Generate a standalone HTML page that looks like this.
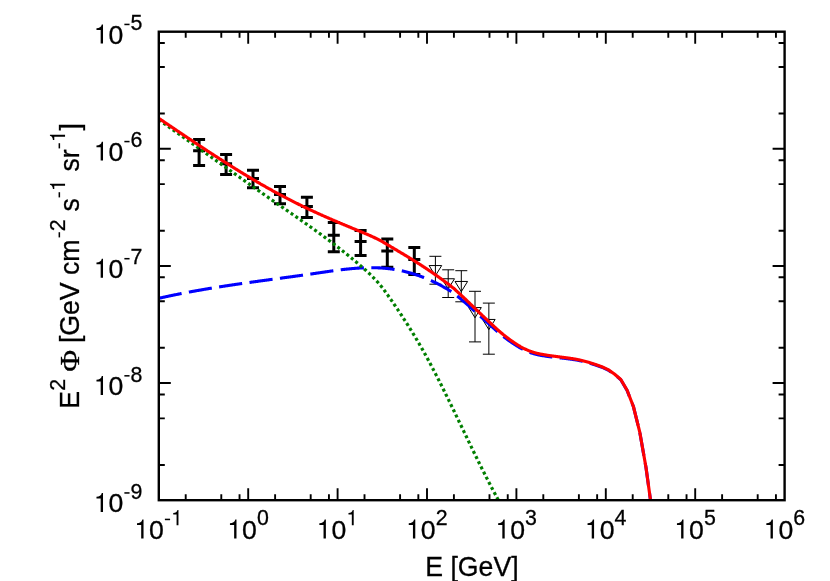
<!DOCTYPE html>
<html><head><meta charset="utf-8"><title>E2 Phi spectrum</title>
<style>html,body{margin:0;padding:0;background:#fff;}body{width:830px;height:581px;overflow:hidden;font-family:"Liberation Sans",sans-serif;}</style></head>
<body>
<svg width="830" height="581" viewBox="0 0 830 581" style="display:block;will-change:transform">
<rect width="830" height="581" fill="#fff"/>
<defs><clipPath id="c"><rect x="158.8" y="31.7" width="625.8" height="468.5"/></clipPath></defs>
<g clip-path="url(#c)">
<g stroke="#000" stroke-width="3" fill="none">
<path d="M199.1,139.6V165.5M193.1,139.6h12M193.1,165.5h12M193.1,150.7h12"/>
<path d="M226.1,154.5V174.6M220.1,154.5h12M220.1,174.6h12M220.1,163.7h12"/>
<path d="M253,170.3V187.7M247,170.3h12M247,187.7h12M247,178.5h12"/>
<path d="M280,186.5V203.8M274,186.5h12M274,203.8h12M274,194.6h12"/>
<path d="M306.9,197.2V217.6M300.9,197.2h12M300.9,217.6h12M300.9,206.5h12"/>
<path d="M333.8,222.6V251.7M327.8,222.6h12M327.8,251.7h12M327.8,235.2h12"/>
<path d="M360.6,230.5V255.5M354.6,230.5h12M354.6,255.5h12M354.6,241.6h12"/>
<path d="M387.3,239.1V267.2M381.3,239.1h12M381.3,267.2h12M381.3,250.9h12"/>
<path d="M414.3,247.5V274.5M408.3,247.5h12M408.3,274.5h12M408.3,259.5h12"/>
</g>
<g stroke="#000" stroke-width="1" fill="none">
<path d="M435.4,256.3V284.2M429.4,256.3h12M429.4,284.2h12"/>
<path d="M435.4,275.756L429.09999999999997,265.55H441.7Z"/>
<path d="M448.2,269.8V297.5M442.2,269.8h12M442.2,297.5h12"/>
<path d="M448.2,288.95599999999996L441.9,278.75H454.5Z"/>
<path d="M461.3,270.7V301.8M455.3,270.7h12M455.3,301.8h12"/>
<path d="M461.3,291.656L455.0,281.45000000000005H467.6Z"/>
<path d="M475.0,291.3V341.9M469.0,291.3h12M469.0,341.9h12"/>
<path d="M475.0,317.756L468.7,307.55H481.3Z"/>
<path d="M488.85,303.1V354.2M482.85,303.1h12M482.85,354.2h12"/>
<path d="M488.85,329.656L482.55,319.45000000000005H495.15000000000003Z"/>
</g>
<path d="M158.80,298.31 L159.28,298.20 L159.76,298.09 L160.24,297.98 L160.72,297.87 L161.19,297.77 L161.67,297.66 L162.15,297.55 L162.63,297.44 L163.11,297.34 L163.59,297.23 L164.07,297.13 L164.55,297.02 L165.02,296.92 L165.50,296.81 L165.98,296.71 L166.46,296.60 L166.94,296.50 L167.42,296.40 L167.90,296.29 L168.38,296.19 L168.85,296.09 L169.33,295.99 L169.81,295.89 L170.29,295.79 L170.77,295.68 L171.25,295.58 L171.73,295.48 L172.21,295.38 L172.68,295.28 L173.16,295.19 L173.64,295.09 L174.12,294.99 L174.60,294.89 L175.08,294.79 L175.56,294.69 L176.04,294.60 L176.51,294.50 L176.99,294.40 L177.47,294.31 L177.95,294.21 L178.43,294.11 L178.91,294.02 L179.39,293.92 L179.87,293.83 L180.34,293.73 L180.82,293.64 L181.30,293.55 L181.78,293.45 L182.26,293.36 L182.74,293.27 L183.22,293.17 L183.70,293.08 L184.17,292.99 L184.65,292.90 L185.13,292.81 L185.61,292.71 L186.09,292.62 L186.57,292.53 L187.05,292.44 L187.53,292.35 L188.00,292.26 L188.48,292.17 L188.96,292.08 L189.44,291.99 L189.92,291.90 L190.40,291.82 L190.88,291.73 L191.36,291.64 L191.83,291.55 L192.31,291.46 L192.79,291.38 L193.27,291.29 L193.75,291.20 L194.23,291.12 L194.71,291.03 L195.19,290.94 L195.66,290.86 L196.14,290.77 L196.62,290.69 L197.10,290.60 L197.58,290.52 L198.06,290.43 L198.54,290.35 L199.02,290.26 L199.49,290.18 L199.97,290.10 L200.45,290.01 L200.93,289.93 L201.41,289.85 L201.89,289.76 L202.37,289.68 L202.85,289.60 L203.32,289.52 L203.80,289.44 L204.28,289.35 L204.76,289.27 L205.24,289.19 L205.72,289.11 L206.20,289.03 L206.68,288.95 L207.15,288.87 L207.63,288.79 L208.11,288.71 L208.59,288.63 L209.07,288.55 L209.55,288.47 L210.03,288.39 L210.51,288.31 L210.98,288.24 L211.46,288.16 L211.94,288.08 L212.42,288.00 L212.90,287.92 L213.38,287.85 L213.86,287.77 L214.34,287.69 L214.81,287.62 L215.29,287.54 L215.77,287.46 L216.25,287.39 L216.73,287.31 L217.21,287.23 L217.69,287.16 L218.17,287.08 L218.64,287.01 L219.12,286.93 L219.60,286.86 L220.08,286.78 L220.56,286.71 L221.04,286.63 L221.52,286.56 L222.00,286.48 L222.47,286.41 L222.95,286.33 L223.43,286.26 L223.91,286.19 L224.39,286.11 L224.87,286.04 L225.35,285.97 L225.83,285.89 L226.30,285.82 L226.78,285.75 L227.26,285.68 L227.74,285.60 L228.22,285.53 L228.70,285.46 L229.18,285.39 L229.66,285.32 L230.13,285.25 L230.61,285.17 L231.09,285.10 L231.57,285.03 L232.05,284.96 L232.53,284.89 L233.01,284.82 L233.49,284.75 L233.96,284.68 L234.44,284.61 L234.92,284.54 L235.40,284.47 L235.88,284.40 L236.36,284.33 L236.84,284.26 L237.32,284.19 L237.79,284.12 L238.27,284.05 L238.75,283.98 L239.23,283.91 L239.71,283.84 L240.19,283.77 L240.67,283.70 L241.15,283.63 L241.62,283.57 L242.10,283.50 L242.58,283.43 L243.06,283.36 L243.54,283.29 L244.02,283.22 L244.50,283.16 L244.98,283.09 L245.45,283.02 L245.93,282.95 L246.41,282.89 L246.89,282.82 L247.37,282.75 L247.85,282.68 L248.33,282.62 L248.81,282.55 L249.28,282.48 L249.76,282.41 L250.24,282.35 L250.72,282.28 L251.20,282.21 L251.68,282.15 L252.16,282.08 L252.64,282.01 L253.11,281.95 L253.59,281.88 L254.07,281.82 L254.55,281.75 L255.03,281.68 L255.51,281.62 L255.99,281.55 L256.47,281.48 L256.94,281.42 L257.42,281.35 L257.90,281.29 L258.38,281.22 L258.86,281.16 L259.34,281.09 L259.82,281.02 L260.30,280.96 L260.77,280.89 L261.25,280.83 L261.73,280.76 L262.21,280.70 L262.69,280.63 L263.17,280.57 L263.65,280.50 L264.13,280.44 L264.60,280.37 L265.08,280.31 L265.56,280.24 L266.04,280.18 L266.52,280.11 L267.00,280.05 L267.48,279.98 L267.96,279.92 L268.43,279.85 L268.91,279.79 L269.39,279.72 L269.87,279.66 L270.35,279.59 L270.83,279.53 L271.31,279.46 L271.79,279.40 L272.26,279.33 L272.74,279.27 L273.22,279.20 L273.70,279.14 L274.18,279.07 L274.66,279.01 L275.14,278.94 L275.62,278.88 L276.09,278.81 L276.57,278.75 L277.05,278.68 L277.53,278.62 L278.01,278.55 L278.49,278.49 L278.97,278.42 L279.45,278.36 L279.92,278.30 L280.40,278.23 L280.88,278.17 L281.36,278.10 L281.84,278.04 L282.32,277.97 L282.80,277.91 L283.28,277.84 L283.75,277.78 L284.23,277.71 L284.71,277.65 L285.19,277.58 L285.67,277.52 L286.15,277.45 L286.63,277.39 L287.11,277.32 L287.58,277.26 L288.06,277.19 L288.54,277.13 L289.02,277.06 L289.50,276.99 L289.98,276.93 L290.46,276.86 L290.94,276.80 L291.41,276.73 L291.89,276.67 L292.37,276.60 L292.85,276.54 L293.33,276.47 L293.81,276.40 L294.29,276.34 L294.77,276.27 L295.24,276.21 L295.72,276.14 L296.20,276.07 L296.68,276.01 L297.16,275.94 L297.64,275.88 L298.12,275.81 L298.60,275.74 L299.07,275.68 L299.55,275.61 L300.03,275.54 L300.51,275.48 L300.99,275.41 L301.47,275.34 L301.95,275.28 L302.43,275.21 L302.91,275.14 L303.38,275.07 L303.86,275.01 L304.34,274.94 L304.82,274.87 L305.30,274.81 L305.78,274.74 L306.26,274.67 L306.74,274.60 L307.21,274.53 L307.69,274.47 L308.17,274.40 L308.65,274.33 L309.13,274.26 L309.61,274.19 L310.09,274.12 L310.57,274.06 L311.04,273.99 L311.52,273.92 L312.00,273.85 L312.48,273.78 L312.96,273.71 L313.44,273.64 L313.92,273.57 L314.40,273.50 L314.87,273.43 L315.35,273.36 L315.83,273.29 L316.31,273.22 L316.79,273.15 L317.27,273.08 L317.75,273.01 L318.23,272.94 L318.70,272.87 L319.18,272.80 L319.66,272.73 L320.14,272.66 L320.62,272.59 L321.10,272.52 L321.58,272.45 L322.06,272.38 L322.53,272.31 L323.01,272.24 L323.49,272.17 L323.97,272.10 L324.45,272.03 L324.93,271.96 L325.41,271.89 L325.89,271.82 L326.36,271.75 L326.84,271.68 L327.32,271.61 L327.80,271.55 L328.28,271.48 L328.76,271.41 L329.24,271.34 L329.72,271.27 L330.19,271.20 L330.67,271.14 L331.15,271.07 L331.63,271.00 L332.11,270.94 L332.59,270.87 L333.07,270.81 L333.55,270.74 L334.02,270.67 L334.50,270.61 L334.98,270.55 L335.46,270.48 L335.94,270.42 L336.42,270.35 L336.90,270.29 L337.38,270.23 L337.85,270.17 L338.33,270.11 L338.81,270.05 L339.29,269.98 L339.77,269.92 L340.25,269.87 L340.73,269.81 L341.21,269.75 L341.68,269.69 L342.16,269.63 L342.64,269.58 L343.12,269.52 L343.60,269.46 L344.08,269.41 L344.56,269.36 L345.04,269.30 L345.51,269.25 L345.99,269.20 L346.47,269.14 L346.95,269.09 L347.43,269.04 L347.91,268.99 L348.39,268.94 L348.87,268.90 L349.34,268.85 L349.82,268.80 L350.30,268.76 L350.78,268.71 L351.26,268.67 L351.74,268.62 L352.22,268.58 L352.70,268.54 L353.17,268.50 L353.65,268.46 L354.13,268.42 L354.61,268.38 L355.09,268.34 L355.57,268.31 L356.05,268.27 L356.53,268.24 L357.00,268.20 L357.48,268.17 L357.96,268.14 L358.44,268.11 L358.92,268.08 L359.40,268.05 L359.88,268.02 L360.36,267.99 L360.83,267.97 L361.31,267.94 L361.79,267.92 L362.27,267.89 L362.75,267.87 L363.23,267.85 L363.71,267.83 L364.19,267.82 L364.66,267.80 L365.14,267.78 L365.62,267.77 L366.10,267.75 L366.58,267.74 L367.06,267.73 L367.54,267.72 L368.02,267.71 L368.49,267.70 L368.97,267.70 L369.45,267.69 L369.93,267.69 L370.41,267.69 L370.89,267.68 L371.37,267.68 L371.85,267.69 L372.32,267.69 L372.80,267.69 L373.28,267.70 L373.76,267.70 L374.24,267.71 L374.72,267.72 L375.20,267.73 L375.68,267.74 L376.15,267.76 L376.63,267.77 L377.11,267.79 L377.59,267.81 L378.07,267.83 L378.55,267.85 L379.03,267.87 L379.51,267.90 L379.98,267.92 L380.46,267.95 L380.94,267.98 L381.42,268.01 L381.90,268.04 L382.38,268.07 L382.86,268.11 L383.34,268.14 L383.81,268.18 L384.29,268.22 L384.77,268.26 L385.25,268.31 L385.73,268.35 L386.21,268.40 L386.69,268.45 L387.17,268.50 L387.64,268.55 L388.12,268.60 L388.60,268.66 L389.08,268.71 L389.56,268.77 L390.04,268.83 L390.52,268.89 L391.00,268.96 L391.47,269.02 L391.95,269.09 L392.43,269.16 L392.91,269.23 L393.39,269.30 L393.87,269.37 L394.35,269.45 L394.83,269.53 L395.30,269.61 L395.78,269.69 L396.26,269.77 L396.74,269.85 L397.22,269.94 L397.70,270.03 L398.18,270.12 L398.66,270.21 L399.13,270.30 L399.61,270.39 L400.09,270.49 L400.57,270.59 L401.05,270.69 L401.53,270.79 L402.01,270.89 L402.49,271.00 L402.96,271.11 L403.44,271.22 L403.92,271.33 L404.40,271.44 L404.88,271.55 L405.36,271.67 L405.84,271.79 L406.32,271.91 L406.79,272.03 L407.27,272.15 L407.75,272.28 L408.23,272.40 L408.71,272.53 L409.19,272.66 L409.67,272.79 L410.15,272.93 L410.62,273.06 L411.10,273.20 L411.58,273.34 L412.06,273.48 L412.54,273.63 L413.02,273.77 L413.50,273.92 L413.98,274.07 L414.45,274.22 L414.93,274.37 L415.41,274.52 L415.89,274.68 L416.37,274.84 L416.85,275.00 L417.33,275.16 L417.81,275.32 L418.28,275.49 L418.76,275.66 L419.24,275.83 L419.72,276.00 L420.20,276.17 L420.68,276.34 L421.16,276.52 L421.64,276.70 L422.11,276.88 L422.59,277.06 L423.07,277.25 L423.55,277.43 L424.03,277.62 L424.51,277.81 L424.99,278.01 L425.47,278.20 L425.94,278.40 L426.42,278.59 L426.90,278.79 L427.38,278.99 L427.86,279.20 L428.34,279.40 L428.82,279.61 L429.30,279.82 L429.77,280.03 L430.25,280.25 L430.73,280.46 L431.21,280.68 L431.69,280.90 L432.17,281.12 L432.65,281.34 L433.13,281.57 L433.60,281.80 L434.08,282.02 L434.56,282.26 L435.04,282.49 L435.52,282.72 L436.00,282.96 L436.48,283.20 L436.96,283.44 L437.43,283.68 L437.91,283.93 L438.39,284.18 L438.87,284.43 L439.35,284.68 L439.83,284.93 L440.31,285.19 L440.79,285.44 L441.26,285.70 L441.74,285.96 L442.22,286.23 L442.70,286.49 L443.18,286.76 L443.66,287.03 L444.14,287.30 L444.62,287.57 L445.09,287.85 L445.57,288.13 L446.05,288.41 L446.53,288.69 L447.01,288.97 L447.49,289.25 L447.97,289.53 L448.45,289.82 L448.93,290.11 L449.40,290.40 L449.88,290.70 L450.36,291.01 L450.84,291.31 L451.32,291.63 L451.80,291.95 L452.28,292.28 L452.76,292.55 L453.23,292.84 L453.71,293.16 L454.19,293.50 L454.67,293.88 L455.15,294.29 L455.63,294.73 L456.11,295.18 L456.59,295.55 L457.06,295.93 L457.54,296.30 L458.02,296.68 L458.50,297.07 L458.98,297.45 L459.46,297.84 L459.94,298.23 L460.42,298.62 L460.89,299.02 L461.37,299.42 L461.85,299.82 L462.33,300.22 L462.81,300.63 L463.29,301.04 L463.77,301.45 L464.25,301.86 L464.72,302.27 L465.20,302.69 L465.68,303.10 L466.16,303.52 L466.64,303.94 L467.12,304.37 L467.60,304.79 L468.08,305.22 L468.55,305.64 L469.03,306.07 L469.51,306.50 L469.99,306.93 L470.47,307.35 L470.95,307.77 L471.43,308.20 L471.91,308.62 L472.38,309.05 L472.86,309.47 L473.34,309.90 L473.82,310.32 L474.30,310.75 L474.78,311.18 L475.26,311.61 L475.74,312.04 L476.21,312.47 L476.69,312.90 L477.17,313.34 L477.65,313.77 L478.13,314.20 L478.61,314.63 L479.09,315.07 L479.57,315.50 L480.04,315.93 L480.52,316.37 L481.00,316.80 L481.48,317.24 L481.96,317.67 L482.44,318.10 L482.92,318.54 L483.40,318.97 L483.87,319.40 L484.35,319.83 L484.83,320.27 L485.31,320.70 L485.79,321.13 L486.27,321.56 L486.75,321.99 L487.23,322.42 L487.70,322.85 L488.18,323.27 L488.66,323.70 L489.14,324.13 L489.62,324.55 L490.10,325.01 L490.58,325.45 L491.06,325.89 L491.53,326.32 L492.01,326.75 L492.49,327.19 L492.97,327.62 L493.45,328.04 L493.93,328.47 L494.41,328.89 L494.89,329.32 L495.36,329.74 L495.84,330.16 L496.32,330.58 L496.80,330.99 L497.28,331.40 L497.76,331.82 L498.24,332.23 L498.72,332.63 L499.19,333.04 L499.67,333.44 L500.15,333.84 L500.63,334.24 L501.11,334.63 L501.59,335.03 L502.07,335.42 L502.55,335.80 L503.02,336.18 L503.50,336.55 L503.98,336.92 L504.46,337.29 L504.94,337.66 L505.42,338.02 L505.90,338.38 L506.38,338.74 L506.85,339.10 L507.33,339.45 L507.81,339.80 L508.29,340.14 L508.77,340.49 L509.25,340.83 L509.73,341.16 L510.21,341.50 L510.68,341.83 L511.16,342.16 L511.64,342.49 L512.12,342.81 L512.60,343.13 L513.08,343.45 L513.56,343.76 L514.04,344.07 L514.51,344.39 L514.99,344.70 L515.47,345.01 L515.95,345.32 L516.43,345.62 L516.91,345.92 L517.39,346.21 L517.87,346.50 L518.34,346.79 L518.82,347.07 L519.30,347.35 L519.78,347.62 L520.26,347.89 L520.74,348.16 L521.22,348.43 L521.70,348.69 L522.17,348.94 L522.65,349.20 L523.13,349.44 L523.61,349.69 L524.09,349.92 L524.57,350.16 L525.05,350.39 L525.53,350.61 L526.00,350.83 L526.48,351.04 L526.96,351.25 L527.44,351.45 L527.92,351.65 L528.40,351.85 L528.88,352.04 L529.36,352.22 L529.83,352.40 L530.31,352.58 L530.79,352.75 L531.27,352.92 L531.75,353.08 L532.23,353.24 L532.71,353.39 L533.19,353.54 L533.66,353.69 L534.14,353.83 L534.62,353.97 L535.10,354.10 L535.58,354.23 L536.06,354.35 L536.54,354.46 L537.02,354.58 L537.49,354.69 L537.97,354.79 L538.45,354.90 L538.93,354.99 L539.41,355.09 L539.89,355.18 L540.37,355.28 L540.85,355.36 L541.32,355.45 L541.80,355.53 L542.28,355.61 L542.76,355.68 L543.24,355.76 L543.72,355.83 L544.20,355.90 L544.68,355.97 L545.15,356.04 L545.63,356.12 L546.11,356.20 L546.59,356.27 L547.07,356.35 L547.55,356.42 L548.03,356.49 L548.51,356.56 L548.98,356.63 L549.46,356.70 L549.94,356.76 L550.42,356.82 L550.90,356.88 L551.38,356.94 L551.86,356.99 L552.34,357.05 L552.81,357.10 L553.29,357.15 L553.77,357.21 L554.25,357.26 L554.73,357.31 L555.21,357.36 L555.69,357.41 L556.17,357.46 L556.64,357.52 L557.12,357.57 L557.60,357.62 L558.08,357.67 L558.56,357.72 L559.04,357.77 L559.52,357.82 L560.00,357.87 L560.47,357.92 L560.95,357.97 L561.43,358.02 L561.91,358.07 L562.39,358.12 L562.87,358.17 L563.35,358.22 L563.83,358.27 L564.30,358.33 L564.78,358.38 L565.26,358.43 L565.74,358.49 L566.22,358.55 L566.70,358.61 L567.18,358.67 L567.66,358.73 L568.13,358.79 L568.61,358.85 L569.09,358.92 L569.57,358.98 L570.05,359.04 L570.53,359.11 L571.01,359.18 L571.49,359.25 L571.96,359.32 L572.44,359.39 L572.92,359.46 L573.40,359.53 L573.88,359.61 L574.36,359.68 L574.84,359.76 L575.32,359.84 L575.79,359.92 L576.27,360.01 L576.75,360.09 L577.23,360.18 L577.71,360.26 L578.19,360.35 L578.67,360.45 L579.15,360.54 L579.62,360.64 L580.10,360.74 L580.58,360.85 L581.06,360.95 L581.54,361.06 L582.02,361.17 L582.50,361.29 L582.98,361.40 L583.45,361.52 L583.93,361.64 L584.41,361.77 L584.89,361.89 L585.37,362.01 L585.85,362.14 L586.33,362.26 L586.81,362.39 L587.28,362.52 L587.76,362.65 L588.24,362.79 L588.72,362.93 L589.20,363.07 L595.50,365.02 L601.80,367.17 L608.10,370.02 L614.40,374.34 L620.80,379.76 L627.10,390.47 L633.40,406.59 L639.70,431.84 L646.00,467.56 L652.40,514.12" fill="none" stroke="#0000ff" stroke-width="3.1" stroke-dasharray="23.3 7.4"/>
<path d="M158.80,119.81 L159.29,120.16 L159.78,120.50 L160.27,120.85 L160.76,121.20 L161.25,121.54 L161.75,121.89 L162.24,122.24 L162.73,122.58 L163.22,122.93 L163.71,123.28 L164.20,123.62 L164.69,123.97 L165.18,124.32 L165.67,124.67 L166.16,125.01 L166.66,125.36 L167.15,125.71 L167.64,126.06 L168.13,126.40 L168.62,126.75 L169.11,127.10 L169.60,127.45 L170.09,127.80 L170.58,128.14 L171.07,128.49 L171.57,128.84 L172.06,129.19 L172.55,129.54 L173.04,129.89 L173.53,130.23 L174.02,130.58 L174.51,130.93 L175.00,131.28 L175.49,131.63 L175.98,131.98 L176.48,132.33 L176.97,132.67 L177.46,133.02 L177.95,133.37 L178.44,133.72 L178.93,134.07 L179.42,134.42 L179.91,134.77 L180.40,135.12 L180.89,135.47 L181.39,135.82 L181.88,136.16 L182.37,136.51 L182.86,136.86 L183.35,137.21 L183.84,137.56 L184.33,137.91 L184.82,138.26 L185.31,138.61 L185.80,138.96 L186.30,139.31 L186.79,139.66 L187.28,140.01 L187.77,140.36 L188.26,140.71 L188.75,141.06 L189.24,141.41 L189.73,141.76 L190.22,142.11 L190.71,142.46 L191.21,142.81 L191.70,143.16 L192.19,143.51 L192.68,143.85 L193.17,144.20 L193.66,144.55 L194.15,144.90 L194.64,145.25 L195.13,145.60 L195.62,145.95 L196.12,146.30 L196.61,146.65 L197.10,147.00 L197.59,147.35 L198.08,147.70 L198.57,148.05 L199.06,148.40 L199.55,148.75 L200.04,149.10 L200.53,149.45 L201.02,149.80 L201.52,150.16 L202.01,150.51 L202.50,150.86 L202.99,151.21 L203.48,151.56 L203.97,151.91 L204.46,152.26 L204.95,152.61 L205.44,152.96 L205.93,153.31 L206.43,153.66 L206.92,154.01 L207.41,154.36 L207.90,154.71 L208.39,155.06 L208.88,155.41 L209.37,155.76 L209.86,156.11 L210.35,156.46 L210.84,156.81 L211.34,157.16 L211.83,157.51 L212.32,157.86 L212.81,158.21 L213.30,158.56 L213.79,158.91 L214.28,159.26 L214.77,159.61 L215.26,159.96 L215.75,160.31 L216.25,160.66 L216.74,161.01 L217.23,161.36 L217.72,161.71 L218.21,162.06 L218.70,162.41 L219.19,162.76 L219.68,163.11 L220.17,163.46 L220.66,163.81 L221.16,164.16 L221.65,164.51 L222.14,164.86 L222.63,165.20 L223.12,165.55 L223.61,165.90 L224.10,166.25 L224.59,166.60 L225.08,166.95 L225.57,167.30 L226.07,167.65 L226.56,168.00 L227.05,168.35 L227.54,168.70 L228.03,169.05 L228.52,169.40 L229.01,169.75 L229.50,170.10 L229.99,170.45 L230.48,170.79 L230.98,171.14 L231.47,171.49 L231.96,171.84 L232.45,172.19 L232.94,172.54 L233.43,172.89 L233.92,173.24 L234.41,173.59 L234.90,173.93 L235.39,174.28 L235.88,174.63 L236.38,174.98 L236.87,175.33 L237.36,175.68 L237.85,176.02 L238.34,176.37 L238.83,176.72 L239.32,177.07 L239.81,177.42 L240.30,177.77 L240.79,178.11 L241.29,178.46 L241.78,178.81 L242.27,179.16 L242.76,179.51 L243.25,179.85 L243.74,180.20 L244.23,180.55 L244.72,180.90 L245.21,181.24 L245.70,181.59 L246.20,181.94 L246.69,182.29 L247.18,182.63 L247.67,182.98 L248.16,183.33 L248.65,183.67 L249.14,184.02 L249.63,184.37 L250.12,184.71 L250.61,185.06 L251.11,185.41 L251.60,185.75 L252.09,186.10 L252.58,186.45 L253.07,186.79 L253.56,187.14 L254.05,187.48 L254.54,187.83 L255.03,188.18 L255.52,188.52 L256.02,188.87 L256.51,189.21 L257.00,189.56 L257.49,189.91 L257.98,190.25 L258.47,190.60 L258.96,190.94 L259.45,191.29 L259.94,191.63 L260.43,191.98 L260.93,192.32 L261.42,192.67 L261.91,193.01 L262.40,193.36 L262.89,193.70 L263.38,194.04 L263.87,194.39 L264.36,194.73 L264.85,195.08 L265.34,195.42 L265.84,195.77 L266.33,196.11 L266.82,196.45 L267.31,196.80 L267.80,197.14 L268.29,197.48 L268.78,197.83 L269.27,198.17 L269.76,198.51 L270.25,198.86 L270.75,199.20 L271.24,199.54 L271.73,199.88 L272.22,200.23 L272.71,200.57 L273.20,200.91 L273.69,201.25 L274.18,201.60 L274.67,201.94 L275.16,202.28 L275.65,202.62 L276.15,202.96 L276.64,203.30 L277.13,203.65 L277.62,203.99 L278.11,204.33 L278.60,204.67 L279.09,205.01 L279.58,205.35 L280.07,205.69 L280.56,206.03 L281.06,206.37 L281.55,206.71 L282.04,207.05 L282.53,207.39 L283.02,207.73 L283.51,208.07 L284.00,208.42 L284.49,208.76 L284.98,209.10 L285.47,209.44 L285.97,209.78 L286.46,210.12 L286.95,210.46 L287.44,210.80 L287.93,211.14 L288.42,211.48 L288.91,211.82 L289.40,212.16 L289.89,212.50 L290.38,212.84 L290.88,213.18 L291.37,213.52 L291.86,213.86 L292.35,214.20 L292.84,214.54 L293.33,214.88 L293.82,215.22 L294.31,215.57 L294.80,215.91 L295.29,216.25 L295.79,216.59 L296.28,216.93 L296.77,217.27 L297.26,217.62 L297.75,217.96 L298.24,218.30 L298.73,218.64 L299.22,218.99 L299.71,219.33 L300.20,219.67 L300.70,220.02 L301.19,220.36 L301.68,220.70 L302.17,221.05 L302.66,221.39 L303.15,221.74 L303.64,222.08 L304.13,222.43 L304.62,222.77 L305.11,223.12 L305.61,223.46 L306.10,223.81 L306.59,224.16 L307.08,224.50 L307.57,224.85 L308.06,225.20 L308.55,225.55 L309.04,225.89 L309.53,226.24 L310.02,226.59 L310.52,226.94 L311.01,227.29 L311.50,227.64 L311.99,227.99 L312.48,228.34 L312.97,228.69 L313.46,229.04 L313.95,229.40 L314.44,229.75 L314.93,230.10 L315.42,230.45 L315.92,230.81 L316.41,231.16 L316.90,231.52 L317.39,231.87 L317.88,232.23 L318.37,232.58 L318.86,232.94 L319.35,233.30 L319.84,233.65 L320.33,234.01 L320.83,234.37 L321.32,234.73 L321.81,235.09 L322.30,235.45 L322.79,235.81 L323.28,236.17 L323.77,236.53 L324.26,236.89 L324.75,237.26 L325.24,237.62 L325.74,237.98 L326.23,238.35 L326.72,238.71 L327.21,239.08 L327.70,239.44 L328.19,239.81 L328.68,240.18 L329.17,240.55 L329.66,240.92 L330.15,241.29 L330.65,241.66 L331.14,242.03 L331.63,242.40 L332.12,242.77 L332.61,243.14 L333.10,243.52 L333.59,243.89 L334.08,244.27 L334.57,244.64 L335.06,245.02 L335.56,245.39 L336.05,245.77 L336.54,246.15 L337.03,246.53 L337.52,246.91 L338.01,247.29 L338.50,247.67 L338.99,248.06 L339.48,248.44 L339.97,248.82 L340.47,249.21 L340.96,249.59 L341.45,249.98 L341.94,250.37 L342.43,250.75 L342.92,251.14 L343.41,251.53 L343.90,251.92 L344.39,252.32 L344.88,252.71 L345.38,253.10 L345.87,253.49 L346.36,253.89 L346.85,254.29 L347.34,254.68 L347.83,255.08 L348.32,255.48 L348.81,255.88 L349.30,256.28 L349.79,256.68 L350.28,257.08 L350.78,257.49 L351.27,257.89 L351.76,258.30 L352.25,258.70 L352.74,259.11 L353.23,259.52 L353.72,259.93 L354.21,260.34 L354.70,260.75 L355.19,261.16 L355.69,261.57 L356.18,261.99 L356.67,262.40 L357.16,262.82 L357.65,263.24 L358.14,263.65 L358.63,264.07 L359.12,264.49 L359.61,264.92 L360.10,265.34 L360.60,265.76 L361.09,266.19 L361.58,266.61 L362.07,267.04 L362.56,267.47 L363.05,267.90 L363.54,268.33 L364.03,268.76 L364.52,269.20 L365.01,269.63 L365.51,270.07 L366.00,270.51 L366.49,270.95 L366.98,271.40 L367.47,271.85 L367.96,272.30 L368.45,272.75 L368.94,273.21 L369.43,273.67 L369.92,274.14 L370.42,274.61 L370.91,275.08 L371.40,275.56 L371.89,276.04 L372.38,276.53 L372.87,277.02 L373.36,277.52 L373.85,278.02 L374.34,278.53 L374.83,279.05 L375.33,279.57 L375.82,280.09 L376.31,280.62 L376.80,281.16 L377.29,281.71 L377.78,282.26 L378.27,282.82 L378.76,283.38 L379.25,283.95 L379.74,284.54 L380.24,285.12 L380.73,285.72 L381.22,286.32 L381.71,286.94 L382.20,287.56 L382.69,288.18 L383.18,288.82 L383.67,289.47 L384.16,290.13 L384.65,290.79 L385.15,291.46 L385.64,292.13 L386.13,292.82 L386.62,293.50 L387.11,294.19 L387.60,294.89 L388.09,295.58 L388.58,296.28 L389.07,296.98 L389.56,297.68 L390.05,298.38 L390.55,299.08 L391.04,299.79 L391.53,300.49 L392.02,301.20 L392.51,301.91 L393.00,302.62 L393.49,303.33 L393.98,304.05 L394.47,304.77 L394.96,305.48 L395.46,306.20 L395.95,306.93 L396.44,307.65 L396.93,308.38 L397.42,309.10 L397.91,309.83 L398.40,310.57 L398.89,311.30 L399.38,312.04 L399.87,312.77 L400.37,313.51 L400.86,314.26 L401.35,315.00 L401.84,315.75 L402.33,316.50 L402.82,317.25 L403.31,318.00 L403.80,318.76 L404.29,319.51 L404.78,320.28 L405.28,321.04 L405.77,321.80 L406.26,322.57 L406.75,323.34 L407.24,324.12 L407.73,324.89 L408.22,325.67 L408.71,326.45 L409.20,327.23 L409.69,328.02 L410.19,328.81 L410.68,329.60 L411.17,330.40 L411.66,331.19 L412.15,331.99 L412.64,332.80 L413.13,333.60 L413.62,334.41 L414.11,335.22 L414.60,336.04 L415.10,336.86 L415.59,337.68 L416.08,338.50 L416.57,339.33 L417.06,340.16 L417.55,340.99 L418.04,341.83 L418.53,342.67 L419.02,343.51 L419.51,344.36 L420.01,345.21 L420.50,346.06 L420.99,346.92 L421.48,347.78 L421.97,348.64 L422.46,349.51 L422.95,350.38 L423.44,351.25 L423.93,352.13 L424.42,353.01 L424.92,353.89 L425.41,354.78 L425.90,355.67 L426.39,356.57 L426.88,357.47 L427.37,358.37 L427.86,359.27 L428.35,360.18 L428.84,361.09 L429.33,362.01 L429.82,362.93 L430.32,363.85 L430.81,364.77 L431.30,365.70 L431.79,366.63 L432.28,367.56 L432.77,368.50 L433.26,369.44 L433.75,370.38 L434.24,371.32 L434.73,372.27 L435.23,373.22 L435.72,374.17 L436.21,375.13 L436.70,376.08 L437.19,377.04 L437.68,378.00 L438.17,378.97 L438.66,379.93 L439.15,380.90 L439.64,381.87 L440.14,382.85 L440.63,383.82 L441.12,384.80 L441.61,385.78 L442.10,386.76 L442.59,387.74 L443.08,388.73 L443.57,389.71 L444.06,390.70 L444.55,391.69 L445.05,392.68 L445.54,393.68 L446.03,394.67 L446.52,395.67 L447.01,396.66 L447.50,397.66 L447.99,398.67 L448.48,399.67 L448.97,400.67 L449.46,401.68 L449.96,402.68 L450.45,403.69 L450.94,404.70 L451.43,405.71 L451.92,406.72 L452.41,407.73 L452.90,408.74 L453.39,409.75 L453.88,410.77 L454.37,411.78 L454.87,412.80 L455.36,413.81 L455.85,414.83 L456.34,415.85 L456.83,416.87 L457.32,417.88 L457.81,418.90 L458.30,419.92 L458.79,420.94 L459.28,421.96 L459.78,422.98 L460.27,424.00 L460.76,425.02 L461.25,426.04 L461.74,427.06 L462.23,428.09 L462.72,429.11 L463.21,430.13 L463.70,431.15 L464.19,432.17 L464.68,433.19 L465.18,434.21 L465.67,435.23 L466.16,436.25 L466.65,437.27 L467.14,438.29 L467.63,439.30 L468.12,440.32 L468.61,441.34 L469.10,442.36 L469.59,443.37 L470.09,444.39 L470.58,445.40 L471.07,446.41 L471.56,447.43 L472.05,448.44 L472.54,449.45 L473.03,450.46 L473.52,451.47 L474.01,452.48 L474.50,453.48 L475.00,454.49 L475.49,455.49 L475.98,456.50 L476.47,457.50 L476.96,458.50 L477.45,459.50 L477.94,460.49 L478.43,461.49 L478.92,462.48 L479.41,463.48 L479.91,464.47 L480.40,465.46 L480.89,466.44 L481.38,467.43 L481.87,468.41 L482.36,469.40 L482.85,470.38 L483.34,471.35 L483.83,472.33 L484.32,473.30 L484.82,474.28 L485.31,475.25 L485.80,476.21 L486.29,477.18 L486.78,478.14 L487.27,479.10 L487.76,480.06 L488.25,481.02 L488.74,481.97 L489.23,482.92 L489.73,483.87 L490.22,484.81 L490.71,485.76 L491.20,486.70 L491.69,487.63 L492.18,488.57 L492.67,489.50 L493.16,490.43 L493.65,491.35 L494.14,492.28 L494.64,493.20 L495.13,494.11 L495.62,495.03 L496.11,495.94 L496.60,496.84 L497.09,497.75 L497.58,498.65 L498.07,499.54 L498.56,500.44 L499.05,501.33 L499.55,502.21 L500.04,503.11 L500.53,504.14 L501.02,505.17 L501.51,506.21 L502.00,507.24" fill="none" stroke="#007f00" stroke-width="3.2" stroke-dasharray="3.0 2.77"/>
<path d="M158.80,118.31 L159.28,118.63 L159.76,118.96 L160.24,119.28 L160.72,119.61 L161.19,119.93 L161.67,120.26 L162.15,120.58 L162.63,120.91 L163.11,121.23 L163.59,121.56 L164.07,121.88 L164.55,122.20 L165.02,122.53 L165.50,122.85 L165.98,123.18 L166.46,123.50 L166.94,123.83 L167.42,124.15 L167.90,124.47 L168.38,124.80 L168.85,125.12 L169.33,125.45 L169.81,125.77 L170.29,126.09 L170.77,126.42 L171.25,126.74 L171.73,127.06 L172.21,127.39 L172.68,127.71 L173.16,128.03 L173.64,128.36 L174.12,128.68 L174.60,129.00 L175.08,129.33 L175.56,129.65 L176.04,129.97 L176.51,130.30 L176.99,130.62 L177.47,130.94 L177.95,131.26 L178.43,131.59 L178.91,131.91 L179.39,132.23 L179.87,132.55 L180.34,132.87 L180.82,133.20 L181.30,133.52 L181.78,133.84 L182.26,134.16 L182.74,134.48 L183.22,134.80 L183.70,135.13 L184.17,135.45 L184.65,135.77 L185.13,136.09 L185.61,136.41 L186.09,136.73 L186.57,137.05 L187.05,137.37 L187.53,137.69 L188.00,138.01 L188.48,138.33 L188.96,138.65 L189.44,138.97 L189.92,139.29 L190.40,139.61 L190.88,139.93 L191.36,140.25 L191.83,140.57 L192.31,140.89 L192.79,141.21 L193.27,141.53 L193.75,141.84 L194.23,142.16 L194.71,142.48 L195.19,142.80 L195.66,143.12 L196.14,143.44 L196.62,143.75 L197.10,144.07 L197.58,144.39 L198.06,144.70 L198.54,145.02 L199.02,145.34 L199.49,145.66 L199.97,145.97 L200.45,146.29 L200.93,146.60 L201.41,146.92 L201.89,147.24 L202.37,147.55 L202.85,147.87 L203.32,148.18 L203.80,148.50 L204.28,148.81 L204.76,149.13 L205.24,149.44 L205.72,149.76 L206.20,150.07 L206.68,150.38 L207.15,150.70 L207.63,151.01 L208.11,151.32 L208.59,151.64 L209.07,151.95 L209.55,152.26 L210.03,152.57 L210.51,152.89 L210.98,153.20 L211.46,153.51 L211.94,153.82 L212.42,154.13 L212.90,154.44 L213.38,154.75 L213.86,155.07 L214.34,155.38 L214.81,155.69 L215.29,156.00 L215.77,156.31 L216.25,156.61 L216.73,156.92 L217.21,157.23 L217.69,157.54 L218.17,157.85 L218.64,158.16 L219.12,158.47 L219.60,158.77 L220.08,159.08 L220.56,159.39 L221.04,159.69 L221.52,160.00 L222.00,160.31 L222.47,160.61 L222.95,160.92 L223.43,161.23 L223.91,161.53 L224.39,161.84 L224.87,162.14 L225.35,162.44 L225.83,162.75 L226.30,163.05 L226.78,163.36 L227.26,163.66 L227.74,163.96 L228.22,164.26 L228.70,164.57 L229.18,164.87 L229.66,165.17 L230.13,165.47 L230.61,165.77 L231.09,166.07 L231.57,166.37 L232.05,166.67 L232.53,166.97 L233.01,167.27 L233.49,167.57 L233.96,167.87 L234.44,168.17 L234.92,168.47 L235.40,168.77 L235.88,169.06 L236.36,169.36 L236.84,169.66 L237.32,169.96 L237.79,170.25 L238.27,170.55 L238.75,170.84 L239.23,171.14 L239.71,171.43 L240.19,171.73 L240.67,172.02 L241.15,172.32 L241.62,172.61 L242.10,172.90 L242.58,173.19 L243.06,173.49 L243.54,173.78 L244.02,174.07 L244.50,174.36 L244.98,174.65 L245.45,174.94 L245.93,175.23 L246.41,175.52 L246.89,175.81 L247.37,176.10 L247.85,176.39 L248.33,176.68 L248.81,176.96 L249.28,177.25 L249.76,177.54 L250.24,177.82 L250.72,178.11 L251.20,178.40 L251.68,178.68 L252.16,178.97 L252.64,179.25 L253.11,179.53 L253.59,179.82 L254.07,180.10 L254.55,180.38 L255.03,180.66 L255.51,180.95 L255.99,181.23 L256.47,181.51 L256.94,181.79 L257.42,182.07 L257.90,182.35 L258.38,182.63 L258.86,182.91 L259.34,183.18 L259.82,183.46 L260.30,183.74 L260.77,184.02 L261.25,184.29 L261.73,184.57 L262.21,184.84 L262.69,185.12 L263.17,185.39 L263.65,185.67 L264.13,185.94 L264.60,186.21 L265.08,186.48 L265.56,186.76 L266.04,187.03 L266.52,187.30 L267.00,187.57 L267.48,187.84 L267.96,188.11 L268.43,188.38 L268.91,188.64 L269.39,188.91 L269.87,189.18 L270.35,189.45 L270.83,189.71 L271.31,189.98 L271.79,190.24 L272.26,190.51 L272.74,190.77 L273.22,191.04 L273.70,191.30 L274.18,191.56 L274.66,191.82 L275.14,192.09 L275.62,192.35 L276.09,192.61 L276.57,192.87 L277.05,193.13 L277.53,193.38 L278.01,193.64 L278.49,193.90 L278.97,194.16 L279.45,194.41 L279.92,194.67 L280.40,194.92 L280.88,195.18 L281.36,195.43 L281.84,195.69 L282.32,195.94 L282.80,196.19 L283.28,196.44 L283.75,196.70 L284.23,196.95 L284.71,197.20 L285.19,197.45 L285.67,197.70 L286.15,197.94 L286.63,198.19 L287.11,198.44 L287.58,198.69 L288.06,198.93 L288.54,199.18 L289.02,199.43 L289.50,199.67 L289.98,199.92 L290.46,200.16 L290.94,200.41 L291.41,200.65 L291.89,200.89 L292.37,201.13 L292.85,201.38 L293.33,201.62 L293.81,201.86 L294.29,202.10 L294.77,202.34 L295.24,202.58 L295.72,202.82 L296.20,203.05 L296.68,203.29 L297.16,203.53 L297.64,203.77 L298.12,204.00 L298.60,204.24 L299.07,204.48 L299.55,204.71 L300.03,204.95 L300.51,205.18 L300.99,205.41 L301.47,205.65 L301.95,205.88 L302.43,206.11 L302.91,206.34 L303.38,206.58 L303.86,206.81 L304.34,207.04 L304.82,207.27 L305.30,207.50 L305.78,207.73 L306.26,207.96 L306.74,208.18 L307.21,208.41 L307.69,208.64 L308.17,208.87 L308.65,209.09 L309.13,209.32 L309.61,209.54 L310.09,209.77 L310.57,209.99 L311.04,210.22 L311.52,210.44 L312.00,210.67 L312.48,210.89 L312.96,211.11 L313.44,211.33 L313.92,211.56 L314.40,211.78 L314.87,212.00 L315.35,212.22 L315.83,212.44 L316.31,212.66 L316.79,212.88 L317.27,213.09 L317.75,213.31 L318.23,213.53 L318.70,213.75 L319.18,213.96 L319.66,214.18 L320.14,214.40 L320.62,214.61 L321.10,214.83 L321.58,215.04 L322.06,215.25 L322.53,215.47 L323.01,215.68 L323.49,215.89 L323.97,216.11 L324.45,216.32 L324.93,216.53 L325.41,216.74 L325.89,216.95 L326.36,217.16 L326.84,217.37 L327.32,217.58 L327.80,217.79 L328.28,218.00 L328.76,218.21 L329.24,218.42 L329.72,218.63 L330.19,218.84 L330.67,219.05 L331.15,219.25 L331.63,219.46 L332.11,219.67 L332.59,219.87 L333.07,220.08 L333.55,220.28 L334.02,220.49 L334.50,220.69 L334.98,220.90 L335.46,221.10 L335.94,221.31 L336.42,221.51 L336.90,221.72 L337.38,221.92 L337.85,222.12 L338.33,222.33 L338.81,222.53 L339.29,222.73 L339.77,222.93 L340.25,223.13 L340.73,223.34 L341.21,223.54 L341.68,223.74 L342.16,223.94 L342.64,224.14 L343.12,224.34 L343.60,224.54 L344.08,224.74 L344.56,224.94 L345.04,225.14 L345.51,225.34 L345.99,225.54 L346.47,225.74 L346.95,225.94 L347.43,226.14 L347.91,226.34 L348.39,226.54 L348.87,226.74 L349.34,226.94 L349.82,227.14 L350.30,227.33 L350.78,227.53 L351.26,227.73 L351.74,227.93 L352.22,228.13 L352.70,228.33 L353.17,228.53 L353.65,228.72 L354.13,228.92 L354.61,229.12 L355.09,229.32 L355.57,229.52 L356.05,229.72 L356.53,229.91 L357.00,230.11 L357.48,230.31 L357.96,230.51 L358.44,230.71 L358.92,230.91 L359.40,231.10 L359.88,231.30 L360.36,231.50 L360.83,231.70 L361.31,231.90 L361.79,232.10 L362.27,232.30 L362.75,232.50 L363.23,232.70 L363.71,232.89 L364.19,233.09 L364.66,233.30 L365.14,233.50 L365.62,233.70 L366.10,233.90 L366.58,234.10 L367.06,234.31 L367.54,234.51 L368.02,234.72 L368.49,234.93 L368.97,235.14 L369.45,235.35 L369.93,235.56 L370.41,235.77 L370.89,235.98 L371.37,236.20 L371.85,236.42 L372.32,236.63 L372.80,236.86 L373.28,237.08 L373.76,237.30 L374.24,237.53 L374.72,237.76 L375.20,237.99 L375.68,238.22 L376.15,238.45 L376.63,238.69 L377.11,238.93 L377.59,239.17 L378.07,239.42 L378.55,239.66 L379.03,239.91 L379.51,240.16 L379.98,240.41 L380.46,240.67 L380.94,240.93 L381.42,241.19 L381.90,241.45 L382.38,241.72 L382.86,241.99 L383.34,242.26 L383.81,242.54 L384.29,242.82 L384.77,243.09 L385.25,243.38 L385.73,243.66 L386.21,243.94 L386.69,244.23 L387.17,244.51 L387.64,244.80 L388.12,245.08 L388.60,245.37 L389.08,245.65 L389.56,245.94 L390.04,246.22 L390.52,246.51 L391.00,246.79 L391.47,247.08 L391.95,247.36 L392.43,247.65 L392.91,247.93 L393.39,248.21 L393.87,248.50 L394.35,248.78 L394.83,249.07 L395.30,249.35 L395.78,249.64 L396.26,249.92 L396.74,250.20 L397.22,250.49 L397.70,250.77 L398.18,251.06 L398.66,251.34 L399.13,251.63 L399.61,251.91 L400.09,252.20 L400.57,252.49 L401.05,252.77 L401.53,253.06 L402.01,253.35 L402.49,253.63 L402.96,253.92 L403.44,254.21 L403.92,254.50 L404.40,254.78 L404.88,255.07 L405.36,255.36 L405.84,255.65 L406.32,255.94 L406.79,256.23 L407.27,256.52 L407.75,256.81 L408.23,257.11 L408.71,257.40 L409.19,257.69 L409.67,257.98 L410.15,258.28 L410.62,258.57 L411.10,258.87 L411.58,259.16 L412.06,259.46 L412.54,259.75 L413.02,260.05 L413.50,260.35 L413.98,260.65 L414.45,260.95 L414.93,261.25 L415.41,261.55 L415.89,261.85 L416.37,262.15 L416.85,262.45 L417.33,262.76 L417.81,263.06 L418.28,263.36 L418.76,263.67 L419.24,263.97 L419.72,264.28 L420.20,264.59 L420.68,264.90 L421.16,265.21 L421.64,265.52 L422.11,265.83 L422.59,266.14 L423.07,266.45 L423.55,266.76 L424.03,267.08 L424.51,267.39 L424.99,267.71 L425.47,268.03 L425.94,268.34 L426.42,268.66 L426.90,268.98 L427.38,269.30 L427.86,269.62 L428.34,269.94 L428.82,270.27 L429.30,270.59 L429.77,270.91 L430.25,271.24 L430.73,271.56 L431.21,271.89 L431.69,272.22 L432.17,272.55 L432.65,272.88 L433.13,273.21 L433.60,273.54 L434.08,273.87 L434.56,274.20 L435.04,274.54 L435.52,274.87 L436.00,275.21 L436.48,275.54 L436.96,275.88 L437.43,276.22 L437.91,276.56 L438.39,276.90 L438.87,277.24 L439.35,277.58 L439.83,277.93 L440.31,278.27 L440.79,278.61 L441.26,278.96 L441.74,279.31 L442.22,279.66 L442.70,280.00 L443.18,280.35 L443.66,280.71 L444.14,281.05 L444.62,281.40 L445.09,281.74 L445.57,282.09 L446.05,282.44 L446.53,282.79 L447.01,283.15 L447.49,283.50 L447.97,283.86 L448.45,284.23 L448.93,284.59 L449.40,284.96 L449.88,285.34 L450.36,285.71 L450.84,286.09 L451.32,286.48 L451.80,286.87 L452.28,287.27 L452.76,287.59 L453.23,287.94 L453.71,288.32 L454.19,288.72 L454.67,289.16 L455.15,289.62 L455.63,290.11 L456.11,290.60 L456.59,291.03 L457.06,291.45 L457.54,291.88 L458.02,292.31 L458.50,292.75 L458.98,293.18 L459.46,293.62 L459.94,294.06 L460.42,294.50 L460.89,294.94 L461.37,295.38 L461.85,295.83 L462.33,296.28 L462.81,296.73 L463.29,297.18 L463.77,297.63 L464.25,298.08 L464.72,298.54 L465.20,298.99 L465.68,299.45 L466.16,299.91 L466.64,300.37 L467.12,300.83 L467.60,301.29 L468.08,301.76 L468.55,302.22 L469.03,302.69 L469.51,303.15 L469.99,303.62 L470.47,304.08 L470.95,304.53 L471.43,304.99 L471.91,305.45 L472.38,305.90 L472.86,306.36 L473.34,306.82 L473.82,307.28 L474.30,307.74 L474.78,308.20 L475.26,308.66 L475.74,309.13 L476.21,309.59 L476.69,310.05 L477.17,310.51 L477.65,310.97 L478.13,311.43 L478.61,311.89 L479.09,312.35 L479.57,312.82 L480.04,313.28 L480.52,313.74 L481.00,314.20 L481.48,314.66 L481.96,315.12 L482.44,315.58 L482.92,316.03 L483.40,316.49 L483.87,316.95 L484.35,317.41 L484.83,317.86 L485.31,318.32 L485.79,318.77 L486.27,319.23 L486.75,319.68 L487.23,320.13 L487.70,320.58 L488.18,321.03 L488.66,321.48 L489.14,321.93 L489.62,322.37 L490.10,322.82 L490.58,323.27 L491.06,323.72 L491.53,324.17 L492.01,324.61 L492.49,325.06 L492.97,325.50 L493.45,325.95 L493.93,326.39 L494.41,326.83 L494.89,327.26 L495.36,327.70 L495.84,328.13 L496.32,328.57 L496.80,329.00 L497.28,329.42 L497.76,329.85 L498.24,330.27 L498.72,330.69 L499.19,331.11 L499.67,331.53 L500.15,331.95 L500.63,332.36 L501.11,332.77 L501.59,333.18 L502.07,333.58 L502.55,333.97 L503.02,334.37 L503.50,334.76 L503.98,335.14 L504.46,335.53 L504.94,335.91 L505.42,336.29 L505.90,336.66 L506.38,337.03 L506.85,337.40 L507.33,337.77 L507.81,338.13 L508.29,338.49 L508.77,338.85 L509.25,339.20 L509.73,339.55 L510.21,339.90 L510.68,340.24 L511.16,340.59 L511.64,340.92 L512.12,341.26 L512.60,341.59 L513.08,341.91 L513.56,342.23 L514.04,342.55 L514.51,342.88 L514.99,343.20 L515.47,343.52 L515.95,343.84 L516.43,344.15 L516.91,344.46 L517.39,344.76 L517.87,345.06 L518.34,345.35 L518.82,345.65 L519.30,345.93 L519.78,346.21 L520.26,346.49 L520.74,346.77 L521.22,347.03 L521.70,347.30 L522.17,347.56 L522.65,347.81 L523.13,348.06 L523.61,348.31 L524.09,348.55 L524.57,348.79 L525.05,349.02 L525.53,349.25 L526.00,349.47 L526.48,349.69 L526.96,349.90 L527.44,350.10 L527.92,350.31 L528.40,350.50 L528.88,350.70 L529.36,350.88 L529.83,351.07 L530.31,351.25 L530.79,351.42 L531.27,351.59 L531.75,351.76 L532.23,351.92 L532.71,352.08 L533.19,352.23 L533.66,352.38 L534.14,352.53 L534.62,352.67 L535.10,352.81 L535.58,352.94 L536.06,353.06 L536.54,353.18 L537.02,353.30 L537.49,353.42 L537.97,353.53 L538.45,353.64 L538.93,353.75 L539.41,353.85 L539.89,353.95 L540.37,354.05 L540.85,354.14 L541.32,354.23 L541.80,354.32 L542.28,354.41 L542.76,354.49 L543.24,354.57 L543.72,354.65 L544.20,354.72 L544.68,354.80 L545.15,354.87 L545.63,354.96 L546.11,355.05 L546.59,355.13 L547.07,355.21 L547.55,355.29 L548.03,355.37 L548.51,355.44 L548.98,355.52 L549.46,355.59 L549.94,355.66 L550.42,355.73 L550.90,355.80 L551.38,355.87 L551.86,355.93 L552.34,356.00 L552.81,356.06 L553.29,356.12 L553.77,356.18 L554.25,356.24 L554.73,356.30 L555.21,356.36 L555.69,356.42 L556.17,356.49 L556.64,356.55 L557.12,356.61 L557.60,356.67 L558.08,356.73 L558.56,356.79 L559.04,356.85 L559.52,356.91 L560.00,356.97 L560.47,357.03 L560.95,357.09 L561.43,357.15 L561.91,357.21 L562.39,357.27 L562.87,357.33 L563.35,357.39 L563.83,357.45 L564.30,357.51 L564.78,357.57 L565.26,357.64 L565.74,357.70 L566.22,357.76 L566.70,357.83 L567.18,357.89 L567.66,357.96 L568.13,358.02 L568.61,358.09 L569.09,358.16 L569.57,358.23 L570.05,358.30 L570.53,358.37 L571.01,358.44 L571.49,358.51 L571.96,358.59 L572.44,358.66 L572.92,358.74 L573.40,358.82 L573.88,358.90 L574.36,358.98 L574.84,359.06 L575.32,359.14 L575.79,359.23 L576.27,359.32 L576.75,359.41 L577.23,359.50 L577.71,359.59 L578.19,359.69 L578.67,359.78 L579.15,359.88 L579.62,359.99 L580.10,360.09 L580.58,360.20 L581.06,360.31 L581.54,360.43 L582.02,360.54 L582.50,360.66 L582.98,360.78 L583.45,360.91 L583.93,361.03 L584.41,361.16 L584.89,361.29 L585.37,361.42 L585.85,361.54 L586.33,361.67 L586.81,361.80 L587.28,361.94 L587.76,362.08 L588.24,362.22 L588.72,362.36 L589.20,362.51 L595.50,364.50 L601.80,366.70 L608.10,369.60 L614.40,374.00 L620.80,379.50 L627.10,390.30 L633.40,406.50 L639.70,431.80 L646.00,467.50 L652.40,514.00" fill="none" stroke="#ff0000" stroke-width="3.15" stroke-linejoin="round"/>
</g>
<path d="M185.71,500.2v-6M185.71,31.7v6M221.29,500.2v-6M221.29,31.7v6M239.54,500.2v-6M239.54,31.7v6M248.20,500.2v-12M248.20,31.7v12M275.11,500.2v-6M275.11,31.7v6M310.69,500.2v-6M310.69,31.7v6M328.94,500.2v-6M328.94,31.7v6M337.60,500.2v-12M337.60,31.7v12M364.51,500.2v-6M364.51,31.7v6M400.09,500.2v-6M400.09,31.7v6M418.34,500.2v-6M418.34,31.7v6M427.00,500.2v-12M427.00,31.7v12M453.91,500.2v-6M453.91,31.7v6M489.49,500.2v-6M489.49,31.7v6M507.74,500.2v-6M507.74,31.7v6M516.40,500.2v-12M516.40,31.7v12M543.31,500.2v-6M543.31,31.7v6M578.89,500.2v-6M578.89,31.7v6M597.14,500.2v-6M597.14,31.7v6M605.80,500.2v-12M605.80,31.7v12M632.71,500.2v-6M632.71,31.7v6M668.29,500.2v-6M668.29,31.7v6M686.54,500.2v-6M686.54,31.7v6M695.20,500.2v-12M695.20,31.7v12M722.11,500.2v-6M722.11,31.7v6M757.69,500.2v-6M757.69,31.7v6M775.94,500.2v-6M775.94,31.7v6M158.8,464.94h6M784.6,464.94h-6M158.8,418.33h6M784.6,418.33h-6M158.8,394.43h6M784.6,394.43h-6M158.8,383.07h12M784.6,383.07h-12M158.8,347.82h6M784.6,347.82h-6M158.8,301.21h6M784.6,301.21h-6M158.8,277.30h6M784.6,277.30h-6M158.8,265.95h12M784.6,265.95h-12M158.8,230.69h6M784.6,230.69h-6M158.8,184.08h6M784.6,184.08h-6M158.8,160.18h6M784.6,160.18h-6M158.8,148.82h12M784.6,148.82h-12M158.8,113.57h6M784.6,113.57h-6M158.8,66.96h6M784.6,66.96h-6M158.8,43.05h6M784.6,43.05h-6" stroke="#000" stroke-width="1.9" fill="none"/>
<rect x="158.8" y="31.7" width="625.8" height="468.5" fill="none" stroke="#000" stroke-width="2.4"/>
<g font-family="Liberation Sans, sans-serif" font-size="26.67" fill="#000" stroke="#000" stroke-width="0.3">
<path transform="translate(134.28,538.50) scale(0.02667,-0.02667)" d="M259,0V505H102V568C210,575 280,612 302,709H347V0Z" stroke="none"/><text x="149.11" y="538.50" font-size="26.67">0</text><path transform="translate(163.95,525.16) scale(0.02134,-0.02134)" d="M44,232H287V304H44Z" stroke="none"/><path transform="translate(171.05,525.16) scale(0.02134,-0.02134)" d="M259,0V505H102V568C210,575 280,612 302,709H347V0Z" stroke="none"/>
<path transform="translate(227.23,538.50) scale(0.02667,-0.02667)" d="M259,0V505H102V568C210,575 280,612 302,709H347V0Z" stroke="none"/><text x="242.07" y="538.50" font-size="26.67">0</text><text x="256.90" y="525.16" font-size="21.34">0</text>
<path transform="translate(316.63,538.50) scale(0.02667,-0.02667)" d="M259,0V505H102V568C210,575 280,612 302,709H347V0Z" stroke="none"/><text x="331.47" y="538.50" font-size="26.67">0</text><path transform="translate(346.30,525.16) scale(0.02134,-0.02134)" d="M259,0V505H102V568C210,575 280,612 302,709H347V0Z" stroke="none"/>
<path transform="translate(406.03,538.50) scale(0.02667,-0.02667)" d="M259,0V505H102V568C210,575 280,612 302,709H347V0Z" stroke="none"/><text x="420.87" y="538.50" font-size="26.67">0</text><text x="435.70" y="525.16" font-size="21.34">2</text>
<path transform="translate(495.43,538.50) scale(0.02667,-0.02667)" d="M259,0V505H102V568C210,575 280,612 302,709H347V0Z" stroke="none"/><text x="510.27" y="538.50" font-size="26.67">0</text><text x="525.10" y="525.16" font-size="21.34">3</text>
<path transform="translate(584.83,538.50) scale(0.02667,-0.02667)" d="M259,0V505H102V568C210,575 280,612 302,709H347V0Z" stroke="none"/><text x="599.67" y="538.50" font-size="26.67">0</text><text x="614.50" y="525.16" font-size="21.34">4</text>
<path transform="translate(674.23,538.50) scale(0.02667,-0.02667)" d="M259,0V505H102V568C210,575 280,612 302,709H347V0Z" stroke="none"/><text x="689.07" y="538.50" font-size="26.67">0</text><text x="703.90" y="525.16" font-size="21.34">5</text>
<path transform="translate(763.63,538.50) scale(0.02667,-0.02667)" d="M259,0V505H102V568C210,575 280,612 302,709H347V0Z" stroke="none"/><text x="778.47" y="538.50" font-size="26.67">0</text><text x="793.30" y="525.16" font-size="21.34">6</text>
<path transform="translate(93.76,512.00) scale(0.02667,-0.02667)" d="M259,0V505H102V568C210,575 280,612 302,709H347V0Z" stroke="none"/><text x="108.60" y="512.00" font-size="26.67">0</text><path transform="translate(123.43,498.67) scale(0.02134,-0.02134)" d="M44,232H287V304H44Z" stroke="none"/><text x="130.53" y="498.67" font-size="21.34">9</text>
<path transform="translate(93.76,394.88) scale(0.02667,-0.02667)" d="M259,0V505H102V568C210,575 280,612 302,709H347V0Z" stroke="none"/><text x="108.60" y="394.88" font-size="26.67">0</text><path transform="translate(123.43,381.54) scale(0.02134,-0.02134)" d="M44,232H287V304H44Z" stroke="none"/><text x="130.53" y="381.54" font-size="21.34">8</text>
<path transform="translate(93.76,277.75) scale(0.02667,-0.02667)" d="M259,0V505H102V568C210,575 280,612 302,709H347V0Z" stroke="none"/><text x="108.60" y="277.75" font-size="26.67">0</text><path transform="translate(123.43,264.42) scale(0.02134,-0.02134)" d="M44,232H287V304H44Z" stroke="none"/><text x="130.53" y="264.42" font-size="21.34">7</text>
<path transform="translate(93.76,160.62) scale(0.02667,-0.02667)" d="M259,0V505H102V568C210,575 280,612 302,709H347V0Z" stroke="none"/><text x="108.60" y="160.62" font-size="26.67">0</text><path transform="translate(123.43,147.29) scale(0.02134,-0.02134)" d="M44,232H287V304H44Z" stroke="none"/><text x="130.53" y="147.29" font-size="21.34">6</text>
<path transform="translate(93.76,43.50) scale(0.02667,-0.02667)" d="M259,0V505H102V568C210,575 280,612 302,709H347V0Z" stroke="none"/><text x="108.60" y="43.50" font-size="26.67">0</text><path transform="translate(123.43,30.16) scale(0.02134,-0.02134)" d="M44,232H287V304H44Z" stroke="none"/><text x="130.53" y="30.16" font-size="21.34">5</text>
<text transform="translate(471.9,576.0) scale(1,1.04)" text-anchor="middle">E [GeV]</text>
<g transform="translate(78.9,0) rotate(-90)">
<text transform="translate(-408.80,0) scale(1,1.04)">E</text>
<text x="-390.80" y="-13.84" font-size="21.34">2</text>
<text font-family="Liberation Serif, serif" transform="translate(-371.70,0) scale(1.118,1.02)">Φ</text>
<text transform="translate(-343.10,0) scale(1,1.04)">[GeV cm</text>
<path transform="translate(-238.35,-13.84) scale(0.02134,-0.02134)" d="M44,232H287V304H44Z" stroke="none"/><text x="-231.24" y="-13.84" font-size="21.34">2</text>
<text transform="translate(-211.60,0) scale(1,1.04)">s</text>
<path transform="translate(-198.35,-13.84) scale(0.02134,-0.02134)" d="M44,232H287V304H44Z" stroke="none"/><path transform="translate(-191.24,-13.84) scale(0.02134,-0.02134)" d="M259,0V505H102V568C210,575 280,612 302,709H347V0Z" stroke="none"/>
<text transform="translate(-171.50,0) scale(1,1.04)">sr</text>
<path transform="translate(-149.35,-13.84) scale(0.02134,-0.02134)" d="M44,232H287V304H44Z" stroke="none"/><path transform="translate(-142.24,-13.84) scale(0.02134,-0.02134)" d="M259,0V505H102V568C210,575 280,612 302,709H347V0Z" stroke="none"/>
<text transform="translate(-130.40,0) scale(1,1.04)">]</text>
</g>
</g>
</svg>
</body></html>
